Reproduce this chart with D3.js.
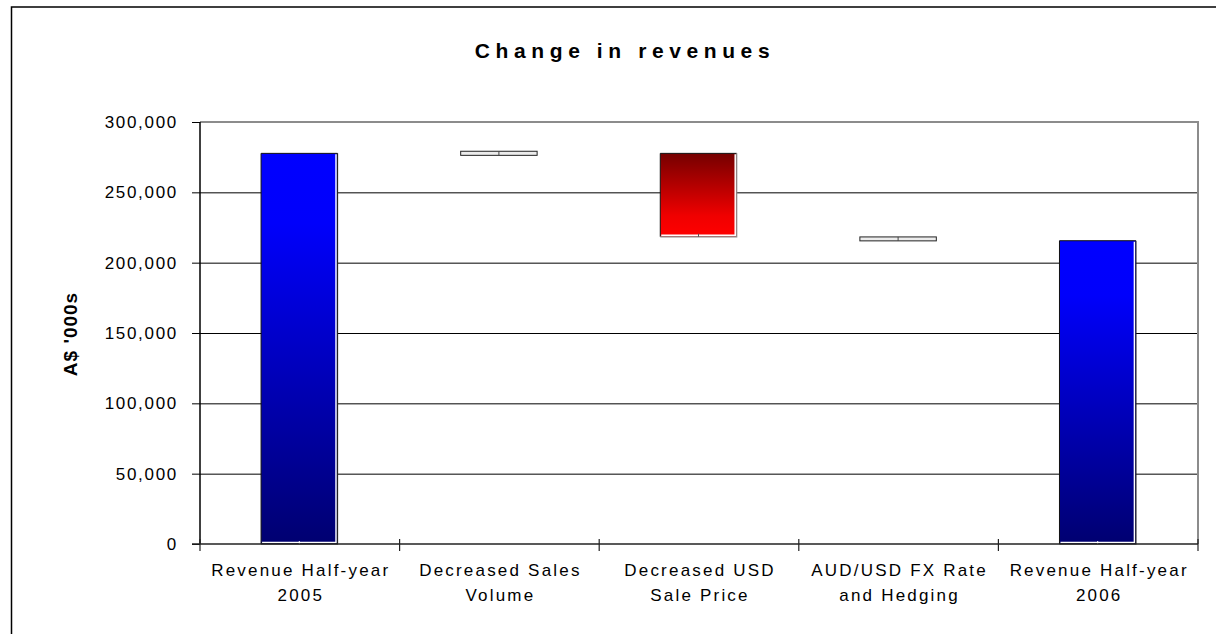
<!DOCTYPE html>
<html>
<head>
<meta charset="utf-8">
<script src="https://cdn.jsdelivr.net/npm/d3@7"></script>
<style>
  body { margin: 0; background: #fff; }
  text { font-family: Arial, 'Liberation Sans', sans-serif; fill: #000; }
</style>
</head>
<body>
<div id="chart"></div>
<script>
// chart values
const categories = ['rev2005', 'volume', 'price', 'fx', 'rev2006'];
const labelLines = [
  ['Revenue Half-year', '2005'],
  ['Decreased Sales', 'Volume'],
  ['Decreased USD', 'Sale Price'],
  ['AUD/USD FX Rate', 'and Hedging'],
  ['Revenue Half-year', '2006']
];
const barLow = [0, 276300, 218400, 215500, 0];
const barHigh = [277700, 279200, 277700, 218300, 215600];
const barKind = ['total', 'small', 'drop', 'small', 'total'];
const yTicks = [0, 50000, 100000, 150000, 200000, 250000, 300000];

const width = 1216;
const height = 634;

const svg = d3.select('#chart')
  .append('svg')
  .attr('width', width)
  .attr('height', height);

const plot = { left: 200, right: 1198, top: 122, bottom: 544 };

const defs = svg.append('defs');
const blue = defs.append('linearGradient')
  .attr('id', 'gradBlue')
  .attr('x1', 0).attr('y1', 0).attr('x2', 0).attr('y2', 1);
blue.append('stop').attr('offset', '0%').attr('stop-color', '#0000ff');
blue.append('stop').attr('offset', '18%').attr('stop-color', '#0000fb');
blue.append('stop').attr('offset', '100%').attr('stop-color', '#000070');

const red = defs.append('linearGradient')
  .attr('id', 'gradRed')
  .attr('x1', 0).attr('y1', 0).attr('x2', 0).attr('y2', 1);
red.append('stop').attr('offset', '0%').attr('stop-color', '#750000');
red.append('stop').attr('offset', '75%').attr('stop-color', '#f00000');
red.append('stop').attr('offset', '100%').attr('stop-color', '#ff0000');

// outer chart border (runs off the picture on right and bottom)
svg.append('rect')
  .attr('x', 11.5)
  .attr('y', 7)
  .attr('width', 1400)
  .attr('height', 800)
  .attr('fill', 'none')
  .attr('stroke', '#000')
  .attr('stroke-width', 1.5);

const scaleX = d3.scaleBand()
  .domain(categories)
  .range([plot.left, plot.right])
  .padding(0);

const scaleY = d3.scaleLinear()
  .domain([0, 300000])
  .range([plot.bottom, plot.top]);

// gridlines
svg.append('g')
  .attr('transform', 'translate(' + plot.left + ',0)')
  .call(d3.axisLeft(scaleY)
    .tickValues(yTicks.filter(d => d > 0 && d < 300000))
    .tickSize(-(plot.right - plot.left))
    .tickFormat(''))
  .call(g => g.select('.domain').remove())
  .call(g => g.selectAll('line').attr('stroke', '#000').attr('stroke-width', 1));

// plot frame top + right in grey
svg.append('path')
  .attr('d', 'M' + plot.left + ',' + scaleY(300000) + 'H' + plot.right + 'V' + plot.bottom)
  .attr('fill', 'none')
  .attr('stroke', '#8c8c8c')
  .attr('stroke-width', 2);

// bars
const barW = scaleX.bandwidth() * 0.383;
const bars = svg.selectAll('.bar')
  .data(categories)
  .enter()
  .append('g')
  .attr('class', 'bar');

bars.each(function(c, i) {
  const g = d3.select(this);
  const cx = scaleX(c) + scaleX.bandwidth() / 2 - 0.5;
  const x0 = cx - barW / 2;
  const y0 = scaleY(barHigh[i]);
  const y1 = scaleY(barLow[i]);
  const kind = barKind[i];

  if (kind === 'small') {
    g.append('rect')
      .attr('x', x0).attr('y', y0)
      .attr('width', barW).attr('height', y1 - y0)
      .attr('fill', '#ececec')
      .attr('stroke', '#222')
      .attr('stroke-width', 1);
    g.append('line')
      .attr('x1', cx).attr('x2', cx)
      .attr('y1', y0).attr('y2', y1)
      .attr('stroke', '#444');
    return;
  }

  g.append('rect')
    .attr('x', x0).attr('y', y0)
    .attr('width', barW).attr('height', y1 - y0)
    .attr('fill', kind === 'drop' ? 'url(#gradRed)' : 'url(#gradBlue)');
  // white inner highlight right + bottom
  g.append('path')
    .attr('d', 'M' + (x0 + barW - 1.5) + ',' + (y0 + 1) + 'V' + (y1 - 1.5) + 'H' + (x0 + 1))
    .attr('fill', 'none')
    .attr('stroke', '#fff')
    .attr('stroke-width', 1.5);
  // outline: dark on top/left, grey shadow on right/bottom
  g.append('path')
    .attr('d', 'M' + x0 + ',' + y1 + 'V' + y0 + 'H' + (x0 + barW))
    .attr('fill', 'none')
    .attr('stroke', '#111')
    .attr('stroke-width', 1);
  g.append('path')
    .attr('d', 'M' + (x0 + barW) + ',' + y0 + 'V' + y1 + 'H' + x0)
    .attr('fill', 'none')
    .attr('stroke', kind === 'drop' ? '#8c8c8c' : '#222')
    .attr('stroke-width', 1.2);
  g.append('line')
    .attr('x1', cx).attr('x2', cx)
    .attr('y1', y1 - 3).attr('y2', y1)
    .attr('stroke', kind === 'drop' ? '#555' : '#fff');
});

// y axis
const yAxis = svg.append('g')
  .attr('transform', 'translate(' + plot.left + ',0)')
  .call(d3.axisLeft(scaleY)
    .tickValues(yTicks)
    .tickSize(8)
    .tickPadding(14)
    .tickFormat(d3.format(',')));
yAxis.select('.domain')
  .attr('d', 'M0,' + plot.top + 'V' + plot.bottom)
  .attr('stroke', '#000')
  .attr('stroke-width', 1.5);
yAxis.selectAll('line').attr('stroke', '#000');
yAxis.selectAll('text')
  .attr('font-size', '17px')
  .attr('letter-spacing', '1.7px')
  .attr('fill', '#000');

// x axis
const xAxis = svg.append('g')
  .attr('transform', 'translate(0,' + plot.bottom + ')');
xAxis.append('line')
  .attr('x1', plot.left - 8).attr('x2', plot.right)
  .attr('stroke', '#222')
  .attr('stroke-width', 1.5);
const bounds = categories.map(c => scaleX(c)).concat([plot.right]);
xAxis.selectAll('.xtick')
  .data(bounds)
  .enter()
  .append('line')
  .attr('class', 'xtick')
  .attr('x1', d => d).attr('x2', d => d)
  .attr('y1', -5).attr('y2', 7)
  .attr('stroke', '#222')
  .attr('stroke-width', 1.2);

const xLabels = xAxis.selectAll('.xlabel')
  .data(categories)
  .enter()
  .append('text')
  .attr('class', 'xlabel')
  .attr('text-anchor', 'middle')
  .attr('font-size', '17px')
  .attr('letter-spacing', '2.2px');
xLabels.each(function(c, i) {
  const t = d3.select(this);
  labelLines[i].forEach((line, k) => {
    t.append('tspan')
      .attr('x', scaleX(c) + scaleX.bandwidth() / 2 + 1)
      .attr('y', 32 + k * 24.5)
      .text(line);
  });
});

// title
svg.append('text')
  .attr('x', 625)
  .attr('y', 58)
  .attr('text-anchor', 'middle')
  .attr('font-size', '21px')
  .attr('font-weight', 'bold')
  .attr('letter-spacing', '5.6px')
  .text('Change in revenues');

// y axis title
svg.append('text')
  .attr('transform', 'translate(77,334) rotate(-90)')
  .attr('text-anchor', 'middle')
  .attr('font-size', '19px')
  .attr('font-weight', 'bold')
  .attr('letter-spacing', '1px')
  .text("A$ '000s");
</script>
</body>
</html>
